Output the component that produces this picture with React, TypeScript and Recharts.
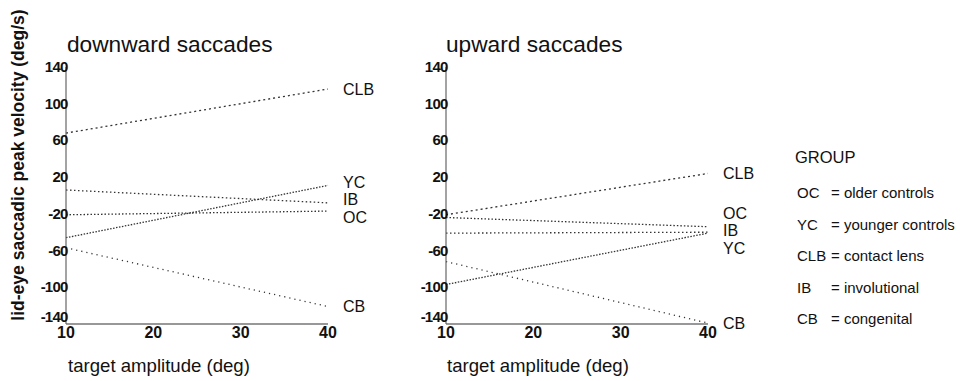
import { LineChart, Line, XAxis, YAxis } from "recharts";

// groups, in legend order
const GROUPS = ["OC", "YC", "CLB", "IB", "CB"];
const GROUP_NAMES = ["older controls", "younger controls", "contact lens", "involutional", "congenital"];

// fitted lid-eye peak velocity (deg/s) at 10 and 40 deg target amplitude
const DOWN_AT_10 = [-21, -46, 68, 6, -57];
const DOWN_AT_40 = [-17, 11, 116, -8, -121];
const UP_AT_10 = [-24, -97, -21, -41, -72];
const UP_AT_40 = [-34, -41, 24, -40, -139];

const X_TICKS = [10, 20, 30, 40];
const Y_TICKS = [140, 100, 60, 20, -20, -60, -100, -140];

const FONT = '"Liberation Sans", Arial, Helvetica, sans-serif';

// chart box (same for both panels, right one is shifted)
const CW = 400;
const CH = 381;
const MARGIN = { top: 67, right: 72, bottom: 0, left: 36 };
const X_AXIS_H = 57;
const PLOT_H = CH - MARGIN.top - MARGIN.bottom - X_AXIS_H;
const PX_PER_UNIT = PLOT_H / 280;
const LABEL_GAP = 17.5;

const DASH: Record<string, string> = {
  OC: "1.5 2",
  YC: "1.5 1.5",
  CLB: "2 3",
  IB: "1.5 2.5",
  CB: "1.2 4",
};

// push end labels apart so they don't overlap (pixel offsets)
function spreadLabels(ends: number[], gap: number) {
  const ys = ends.map((v) => -v * PX_PER_UNIT);
  const order = ys.map((_, i) => i).sort((a, b) => ys[a] - ys[b]);
  const groups = order.map((i) => ({ ids: [i], center: ys[i] }));
  let merged = true;
  while (merged) {
    merged = false;
    for (let k = 0; k < groups.length - 1; k++) {
      const a = groups[k];
      const b = groups[k + 1];
      const aBottom = a.center + ((a.ids.length - 1) * gap) / 2;
      const bTop = b.center - ((b.ids.length - 1) * gap) / 2;
      if (bTop - aBottom < gap) {
        const ids = [...a.ids, ...b.ids];
        const center = ids.reduce((s, i) => s + ys[i], 0) / ids.length;
        groups.splice(k, 2, { ids, center });
        merged = true;
        break;
      }
    }
  }
  const out = new Array(ends.length).fill(0);
  groups.forEach((g) =>
    g.ids.forEach((i, j) => {
      out[i] = g.center + (j - (g.ids.length - 1) / 2) * gap - ys[i];
    })
  );
  return out;
}

function YTick(props: any) {
  const { x, y, payload } = props;
  const lift = payload.value === Y_TICKS[Y_TICKS.length - 1] ? -7 : 0;
  return (
    <text
      x={x + 1.5}
      y={y + lift + 5}
      textAnchor="end"
      fontFamily={FONT}
      fontSize={15}
      fontWeight="bold"
      letterSpacing={-0.8}
      fill="#111"
    >
      {payload.value}
    </text>
  );
}

function Panel({ at10, at40 }: { at10: number[]; at40: number[] }) {
  const data = [10, 40].map((x, r) => {
    const row: Record<string, number> = { x };
    GROUPS.forEach((g, i) => (row[g] = r === 0 ? at10[i] : at40[i]));
    return row;
  });
  const shift = spreadLabels(at40, LABEL_GAP);

  return (
    <LineChart width={CW} height={CH} data={data} margin={MARGIN}>
      <XAxis
        dataKey="x"
        type="number"
        domain={[10, 40]}
        ticks={X_TICKS}
        height={X_AXIS_H}
        tickLine={false}
        tickSize={0}
        tickMargin={3}
        axisLine={{ stroke: "#333", strokeWidth: 1.2 }}
        tick={{ fill: "#111", fontSize: 16, fontWeight: "bold", fontFamily: FONT }}
        interval={0}
      />
      <YAxis
        type="number"
        domain={[-140, 140]}
        ticks={Y_TICKS}
        width={30}
        tickLine={false}
        tickSize={0}
        tickMargin={0}
        axisLine={{ stroke: "#666", strokeWidth: 1.2 }}
        tick={<YTick />}
        interval={0}
      />
      {GROUPS.map((g, i) => (
        <Line
          key={g}
          dataKey={g}
          type="linear"
          stroke="#333"
          strokeWidth={1.3}
          strokeDasharray={DASH[g]}
          isAnimationActive={false}
          dot={(p: any) =>
            p.index === 1 ? (
              <text
                key={`${g}-lbl`}
                x={p.cx + 15}
                y={p.cy + shift[i] + 5.5}
                fontFamily={FONT}
                fontSize={16}
                fill="#111"
              >
                {g}
              </text>
            ) : (
              <g key={`${g}-d${p.index}`} />
            )
          }
          activeDot={false}
        />
      ))}
    </LineChart>
  );
}

export default function App() {
  return (
    <div
      style={{
        position: "fixed",
        left: 0,
        top: 0,
        width: 961,
        height: 381,
        background: "#fff",
        overflow: "hidden",
      }}
    >
      <svg width={961} height={381} style={{ position: "absolute", left: 0, top: 0 }} fontFamily={FONT} fill="#111">
        <text x={67} y={52} fontSize={22.7}>
          downward saccades
        </text>
        <text x={446} y={52} fontSize={22.7}>
          upward saccades
        </text>
        <text x={68} y={372} fontSize={18.6}>
          target amplitude (deg)
        </text>
        <text x={447} y={372} fontSize={18.6}>
          target amplitude (deg)
        </text>
        <text transform="rotate(-90)" x={-165} y={24} textAnchor="middle" fontSize={17.5} fontWeight="bold">
          lid-eye saccadic peak velocity (deg/s)
        </text>
        <text x={795} y={163} fontSize={16.5}>
          GROUP
        </text>
        {GROUPS.map((g, i) => (
          <g key={g}>
            <text x={797} y={198 + i * 31.5} fontSize={15}>
              {g}
            </text>
            <text x={831} y={198 + i * 31.5} fontSize={15}>
              = {GROUP_NAMES[i]}
            </text>
          </g>
        ))}
      </svg>
      <div style={{ position: "absolute", left: 0, top: 0 }}>
        <Panel at10={DOWN_AT_10} at40={DOWN_AT_40} />
      </div>
      <div style={{ position: "absolute", left: 380, top: 0 }}>
        <Panel at10={UP_AT_10} at40={UP_AT_40} />
      </div>
    </div>
  );
}
